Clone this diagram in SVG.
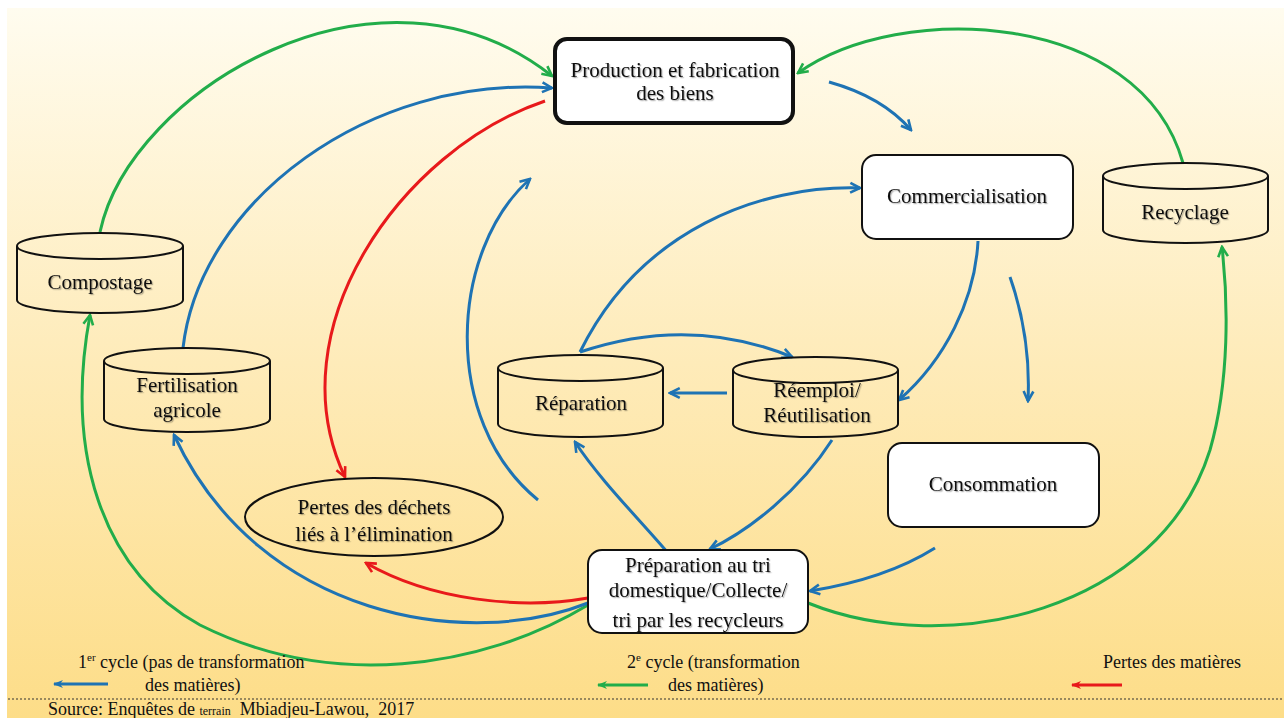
<svg xmlns="http://www.w3.org/2000/svg" width="1284" height="718" viewBox="0 0 1284 718">
<defs>
<linearGradient id="bg" x1="0" y1="0" x2="0" y2="1">
<stop offset="0" stop-color="#FFFCEF"/>
<stop offset="0.5" stop-color="#FEEBB9"/>
<stop offset="1" stop-color="#FDDD88"/>
</linearGradient>
<filter id="sh" x="-5%" y="-20%" width="110%" height="140%">
<feDropShadow dx="1.2" dy="1.2" stdDeviation="0.7" flood-color="#000" flood-opacity="0.3"/>
</filter>
<marker id="aB" viewBox="0 0 12 12" refX="10.5" refY="6" markerWidth="13" markerHeight="13" markerUnits="userSpaceOnUse" orient="auto"><path d="M1.5,1.5 L10.5,6 L1.5,10.5" fill="none" stroke="#1E73B4" stroke-width="2.4"/></marker>
<marker id="aG" viewBox="0 0 12 12" refX="10.5" refY="6" markerWidth="13" markerHeight="13" markerUnits="userSpaceOnUse" orient="auto"><path d="M1.5,1.5 L10.5,6 L1.5,10.5" fill="none" stroke="#22AD4A" stroke-width="2.4"/></marker>
<marker id="aR" viewBox="0 0 12 12" refX="10.5" refY="6" markerWidth="13" markerHeight="13" markerUnits="userSpaceOnUse" orient="auto"><path d="M1.5,1.5 L10.5,6 L1.5,10.5" fill="none" stroke="#E8191B" stroke-width="2.4"/></marker>
<marker id="lB" viewBox="0 0 10 10" refX="9" refY="5" markerWidth="10" markerHeight="10" markerUnits="userSpaceOnUse" orient="auto"><path d="M0,1 L10,5 L0,9 L3,5 Z" fill="#1E73B4"/></marker>
<marker id="lG" viewBox="0 0 10 10" refX="9" refY="5" markerWidth="10" markerHeight="10" markerUnits="userSpaceOnUse" orient="auto"><path d="M0,1 L10,5 L0,9 L3,5 Z" fill="#22AD4A"/></marker>
<marker id="lR" viewBox="0 0 10 10" refX="9" refY="5" markerWidth="10" markerHeight="10" markerUnits="userSpaceOnUse" orient="auto"><path d="M0,1 L10,5 L0,9 L3,5 Z" fill="#E8191B"/></marker>
</defs>
<style>
.t{font-family:"Liberation Serif","Times New Roman",serif;font-size:21px;fill:#111;text-anchor:middle;filter:url(#sh)}
.lg{font-family:"Liberation Serif","Times New Roman",serif;font-size:18px;fill:#111}
.box{fill:#fff;stroke:#111;stroke-width:2}
.cyl{fill:none;stroke:#111;stroke-width:2}
.b{fill:none;stroke:#1E73B4;stroke-width:3;marker-end:url(#aB)}
.g{fill:none;stroke:#22AD4A;stroke-width:3;marker-end:url(#aG)}
.r{fill:none;stroke:#E8191B;stroke-width:3;marker-end:url(#aR)}
</style>
<rect x="7" y="8" width="1277" height="710" fill="url(#bg)"/>

<g id="connectors">
<path class="g" d="M100,232 C130,90 380,-60 552,76"/>
<path class="g" d="M1183,163 C1140,10 900,0 798,73"/>
<path class="g" d="M588,605 C480,670 330,690 200,625 C100,570 65,450 90,315"/>
<path class="g" d="M808,603 C950,660 1160,610 1210,450 C1230,380 1228,300 1222,247"/>
<path class="b" d="M829,82 C865,92 892,108 911,130"/>
<path class="b" d="M183,348 C200,200 370,75 552,88"/>
<path class="b" d="M580,352 C640,230 760,185 860,188"/>
<path class="b" d="M580,352 Q690,315 792,357"/>
<path class="b" d="M727,393 L670,393"/>
<path class="b" d="M978,241 C975,300 945,360 899,400"/>
<path class="b" d="M1010,277 C1025,320 1030,360 1028,401"/>
<path class="b" d="M935,548 C900,570 860,583 810,591"/>
<path class="b" d="M832,440 C800,490 750,530 710,549"/>
<path class="b" d="M668,553 C640,520 600,480 575,442"/>
<path class="b" d="M538,500 C440,420 450,250 530,179"/>
<path class="b" d="M588,603 C470,650 260,620 174,435"/>
<path class="r" d="M545,101 C400,150 275,330 345,477"/>
<path class="r" d="M588,598 C520,610 430,600 366,563"/>
</g>

<g id="production">
<rect x="555" y="39" width="238" height="84" rx="12" fill="#fff" stroke="#111" stroke-width="4"/>
<text class="t" x="675" y="77">Production et fabrication</text>
<text class="t" x="675" y="100">des biens</text>
</g>
<g id="commercialisation">
<rect class="box" x="862" y="155" width="211" height="84" rx="14"/>
<text class="t" x="967" y="203">Commercialisation</text>
</g>
<g id="recyclage">
<path class="cyl" d="M1103,176 L1103,230 A82.5,13 0 0 0 1268,230 L1268,176"/>
<ellipse class="cyl" cx="1185.5" cy="176" rx="82.5" ry="13"/>
<text class="t" x="1185" y="219">Recyclage</text>
</g>
<g id="compostage">
<path class="cyl" d="M17,246 L17,300 A83,13 0 0 0 183,300 L183,246"/>
<ellipse class="cyl" cx="100" cy="246" rx="83" ry="13"/>
<text class="t" x="100" y="289">Compostage</text>
</g>
<g id="fertilisation">
<path class="cyl" d="M104,361 L104,419 A83,13 0 0 0 270,419 L270,361"/>
<ellipse class="cyl" cx="187" cy="361" rx="83" ry="13"/>
<text class="t" x="187" y="392">Fertilisation</text>
<text class="t" x="187" y="417">agricole</text>
</g>
<g id="reparation">
<path class="cyl" d="M498,368 L498,424 A82.5,13 0 0 0 663,424 L663,368"/>
<ellipse class="cyl" cx="580.5" cy="368" rx="82.5" ry="13"/>
<text class="t" x="581" y="410">Réparation</text>
</g>
<g id="reemploi">
<path class="cyl" d="M733,370 L733,424 A82.5,13 0 0 0 898,424 L898,370"/>
<ellipse class="cyl" cx="815.5" cy="370" rx="82.5" ry="13"/>
<text class="t" x="817" y="397">Réemploi/</text>
<text class="t" x="817" y="422">Réutilisation</text>
</g>
<g id="consommation">
<rect class="box" x="888" y="443" width="211" height="84" rx="14"/>
<text class="t" x="993" y="491">Consommation</text>
</g>
<g id="pertes">
<ellipse cx="374" cy="517" rx="129" ry="39" fill="none" stroke="#111" stroke-width="2"/>
<text class="t" x="374" y="514" font-size="22">Pertes des déchets</text>
<text class="t" x="374" y="541" font-size="22">liés à l’élimination</text>
</g>
<g id="preparation">
<rect class="box" x="588" y="550" width="220" height="83" rx="14"/>
<text class="t" x="698" y="572">Préparation au tri</text>
<text class="t" x="698" y="597">domestique/Collecte/</text>
<text class="t" x="698" y="627">tri par les recycleurs</text>
</g>

<g id="legend">
<text class="lg" x="78" y="668">1<tspan font-size="11" dy="-7">er</tspan><tspan dy="7"> cycle (pas de transformation</tspan></text>
<text class="lg" x="145" y="691">des matières)</text>
<path d="M108,684 L54,684" stroke="#1E73B4" stroke-width="3" marker-end="url(#lB)"/>
<text class="lg" x="627" y="668">2<tspan font-size="11" dy="-7">e</tspan><tspan dy="7"> cycle (transformation</tspan></text>
<text class="lg" x="668" y="691">des matières)</text>
<path d="M648,685 L598,685" stroke="#22AD4A" stroke-width="3" marker-end="url(#lG)"/>
<text class="lg" x="1103" y="668">Pertes des matières</text>
<path d="M1122,685 L1072,685" stroke="#E8191B" stroke-width="3" marker-end="url(#lR)"/>
<line x1="8" y1="699" x2="1282" y2="699" stroke="#333" stroke-width="1" stroke-dasharray="2,2"/>
<text class="lg" x="48" y="715" font-size="17">Source: Enquêtes de <tspan font-size="12">terrain</tspan>&#160; Mbiadjeu-Lawou,&#160; 2017</text>
</g>
</svg>
